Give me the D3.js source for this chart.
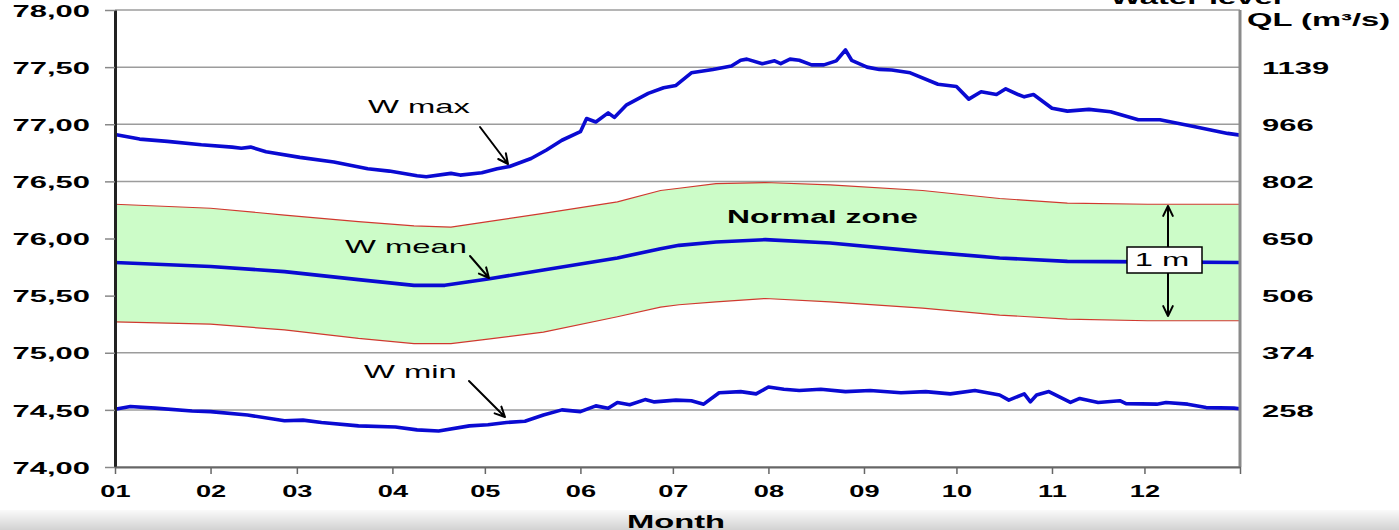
<!DOCTYPE html>
<meta charset="utf-8">
<style>
  body { margin: 0; background: #fff; }
  svg { display: block; }
  .grid line { stroke: #9c9c9c; stroke-width: 1.5px; }
  .zone { fill: #ccfcc8; stroke: none; }
  .zone-edge { fill: none; stroke: #d0392f; stroke-width: 1.2px; }
  .wline { fill: none; stroke: #0a0ad2; stroke-width: 3.6px; stroke-linejoin: round; }
  .arrow { fill: none; stroke: #000; stroke-width: 2px; stroke-linecap: round; stroke-linejoin: round; }
  text { font-family: 'Liberation Sans', Arial, sans-serif; fill: #000; }
</style>
<svg width="1399" height="530"></svg>
<script src="https://cdn.jsdelivr.net/npm/d3@7"></script>
<script>
  // month axis
  const monthStarts = [0, 31, 59, 90, 120, 151, 181, 212, 243, 273, 304, 334, 365];
  const monthLabels = ["01", "02", "03", "04", "05", "06", "07", "08", "09", "10", "11", "12", ""];

  // water level gridlines and the discharge (QL) shown on the right
  const levels = [74, 74.5, 75, 75.5, 76, 76.5, 77, 77.5, 78];
  const qlLevels = [77.5, 77, 76.5, 76, 75.5, 75, 74.5];
  const qlLabels = ["1139", "966", "802", "650", "506", "374", "258"];

  // W max (day of year, level)
  const wMaxDay = [0, 8, 17, 28, 38, 41, 44, 49, 60, 71, 82, 89, 98, 101, 109, 112, 119, 124, 128, 135,
    140, 145, 151, 153, 156, 160, 162, 166, 173, 178, 182, 187, 194, 200, 203, 205, 210, 214, 216, 219,
    222, 226, 230, 234, 237, 239, 244, 248, 252, 258, 267, 273, 277, 281, 286, 289, 293, 295, 298, 304,
    309, 316, 323, 332, 339, 350, 361, 365];
  const wMaxVal = [76.91, 76.87, 76.85, 76.82, 76.80, 76.79, 76.80, 76.76, 76.71, 76.67, 76.61, 76.59, 76.55, 76.54, 76.57, 76.555, 76.575, 76.61, 76.63, 76.70,
    76.775, 76.86, 76.935, 77.05, 77.02, 77.10, 77.06, 77.17, 77.27, 77.32, 77.34, 77.45, 77.48, 77.51, 77.56, 77.57, 77.53, 77.555, 77.53, 77.57,
    77.56, 77.52, 77.52, 77.555, 77.65, 77.56, 77.50, 77.48, 77.475, 77.45, 77.35, 77.33, 77.22, 77.285, 77.26, 77.31, 77.26, 77.24, 77.26, 77.14,
    77.115, 77.13, 77.11, 77.04, 77.04, 76.98, 76.92, 76.905];

  // W mean
  const wMeanDay = [0, 31, 55, 79, 97, 107, 121, 139, 163, 177, 183, 195, 211, 232, 262, 287, 309, 335, 365];
  const wMeanVal = [75.79, 75.755, 75.71, 75.64, 75.59, 75.59, 75.645, 75.725, 75.83, 75.91, 75.94, 75.97, 75.99, 75.96, 75.885, 75.83, 75.80, 75.795, 75.79];

  // W min
  const wMinDay = [0, 5, 13, 25, 31, 43, 55, 61, 67, 79, 91, 98, 105, 115, 121, 127, 133, 139, 145, 151,
    156, 160, 163, 167, 172, 175, 182, 187, 191, 196, 203, 208, 212, 217, 222, 229, 237, 245, 255, 263,
    271, 279, 287, 290, 295, 297, 299, 303, 310, 313, 319, 326, 328, 338, 341, 348, 354, 363, 365];
  const wMinVal = [74.505, 74.53, 74.515, 74.49, 74.485, 74.455, 74.405, 74.41, 74.39, 74.36, 74.35, 74.325, 74.315, 74.36, 74.37, 74.39, 74.40, 74.455, 74.50, 74.485,
    74.535, 74.515, 74.565, 74.545, 74.59, 74.57, 74.585, 74.58, 74.55, 74.65, 74.66, 74.64, 74.70, 74.68, 74.67, 74.68, 74.66, 74.67, 74.65, 74.66,
    74.64, 74.67, 74.63, 74.585, 74.64, 74.57, 74.63, 74.66, 74.565, 74.60, 74.565, 74.58, 74.555, 74.55, 74.565, 74.55, 74.52, 74.515, 74.51];

  // normal zone bounds
  const zoneDay = [0, 31, 55, 79, 97, 109, 121, 139, 163, 177, 183, 195, 211, 232, 262, 287, 309, 335, 365];
  const zoneUpper = [76.30, 76.265, 76.205, 76.147, 76.11, 76.10, 76.147, 76.22, 76.32, 76.42, 76.44, 76.48, 76.49, 76.47, 76.42, 76.35, 76.31, 76.30, 76.30];
  const zoneLower = [75.27, 75.25, 75.20, 75.125, 75.08, 75.08, 75.12, 75.18, 75.315, 75.40, 75.42, 75.445, 75.475, 75.445, 75.39, 75.33, 75.295, 75.28, 75.28];

  const SX = 1.82; // the original picture is stretched sideways

  const svg = d3.select("svg");
  const x = d3.scaleLinear().domain([0, 365]).range([115, 1240]);
  const y = d3.scaleLinear().domain([74, 78]).range([467, 10]);

  const comma = d3.formatLocale({decimal: ",", thousands: ".", grouping: [3], currency: ["", ""]}).format(".2f");

  function label(px, py, str, size, weight, anchor) {
    return svg.append("text")
      .attr("transform", "translate(" + px + "," + py + ") scale(" + SX + ",1)")
      .attr("text-anchor", anchor || "start")
      .style("font-size", size + "px")
      .style("font-weight", weight || "normal")
      .text(str);
  }

  function arrow(x1, y1, x2, y2) {
    const a = Math.atan2(y2 - y1, x2 - x1), h = 11, w = 0.45;
    svg.append("path").attr("class", "arrow")
      .attr("d", "M" + x1 + "," + y1 + "L" + x2 + "," + y2 +
        "M" + (x2 - h * Math.cos(a - w)) + "," + (y2 - h * Math.sin(a - w)) +
        "L" + x2 + "," + y2 +
        "L" + (x2 - h * Math.cos(a + w)) + "," + (y2 - h * Math.sin(a + w)));
  }

  // bottom shading of the slide
  const grad = svg.append("defs").append("linearGradient")
    .attr("id", "shade").attr("x1", 0).attr("y1", 0).attr("x2", 0).attr("y2", 1);
  grad.append("stop").attr("offset", "0%").attr("stop-color", "#fafafa");
  grad.append("stop").attr("offset", "100%").attr("stop-color", "#d2d2d2");
  svg.append("rect").attr("x", 0).attr("y", 510).attr("width", 1399).attr("height", 20)
    .attr("fill", "url(#shade)");

  // gridlines
  svg.append("g").attr("class", "grid")
    .selectAll("line").data(levels).enter().append("line")
    .attr("x1", x(0)).attr("x2", x(365))
    .attr("y1", d => y(d)).attr("y2", d => y(d));

  // normal zone
  const zone = zoneDay.map((d, i) => ({d: d, lo: zoneLower[i], hi: zoneUpper[i]}));
  svg.append("path").datum(zone).attr("class", "zone")
    .attr("d", d3.area().x(p => x(p.d)).y0(p => y(p.lo)).y1(p => y(p.hi)));
  svg.append("path").datum(zone).attr("class", "zone-edge")
    .attr("d", d3.line().x(p => x(p.d)).y(p => y(p.hi)));
  svg.append("path").datum(zone).attr("class", "zone-edge")
    .attr("d", d3.line().x(p => x(p.d)).y(p => y(p.lo)));

  // water level lines
  const line = d3.line().x(p => x(p[0])).y(p => y(p[1]));
  [[wMaxDay, wMaxVal], [wMeanDay, wMeanVal], [wMinDay, wMinVal]].forEach(s => {
    svg.append("path").datum(d3.zip(s[0], s[1])).attr("class", "wline").attr("d", line);
  });

  // axes
  const left = svg.append("g").attr("transform", "translate(" + x(0) + ",0)")
    .call(d3.axisLeft(y).tickValues(levels).tickSize(10).tickSizeOuter(0).tickFormat(comma));
  left.select(".domain").attr("stroke", "#222").attr("stroke-width", 3);
  left.selectAll(".tick line").attr("stroke", "#888").attr("stroke-width", 1.5);
  left.selectAll(".tick text")
    .attr("x", -25 / SX).attr("dy", "0.36em")
    .attr("transform", "scale(" + SX + ",1)")
    .style("font-size", "17px").style("font-weight", "bold")
    .style("font-family", "'Liberation Sans', Arial, sans-serif").attr("fill", "#000");

  const right = svg.append("g").attr("transform", "translate(" + x(365) + ",0)")
    .call(d3.axisRight(y).tickValues(qlLevels).tickSize(0).tickSizeOuter(0)
      .tickFormat((d, i) => qlLabels[i]));
  right.select(".domain").attr("stroke", "#8a8a8a").attr("stroke-width", 3)
    .attr("d", "M0," + y(78) + "V" + y(74));
  right.selectAll(".tick text")
    .attr("x", 22 / SX).attr("dy", "0.36em")
    .attr("transform", "scale(" + SX + ",1)")
    .style("font-size", "17px").style("font-weight", "bold")
    .style("font-family", "'Liberation Sans', Arial, sans-serif").attr("fill", "#000");

  const bottom = svg.append("g").attr("transform", "translate(0," + y(74) + ")")
    .call(d3.axisBottom(x).tickValues(monthStarts).tickSize(7).tickSizeOuter(0)
      .tickFormat((d, i) => monthLabels[i]));
  bottom.select(".domain").attr("stroke", "#666").attr("stroke-width", 2);
  bottom.selectAll(".tick line").attr("stroke", "#666").attr("stroke-width", 1.5);
  bottom.selectAll(".tick text")
    .attr("y", 30).attr("dy", 0)
    .attr("transform", "scale(" + (SX * 0.88) + ",1)")
    .attr("x", 0)
    .style("font-size", "17px").style("font-weight", "bold")
    .style("font-family", "'Liberation Sans', Arial, sans-serif").attr("fill", "#000");
  // the scale applies to the tick group's local x, so move ticks by hand
  bottom.selectAll(".tick").each(function(d) {
    d3.select(this).select("text").attr("x", 0);
  });

  // titles
  label(1196, 3.5, "Water level", 18, "bold", "middle");
  svg.append("text")
    .attr("transform", "translate(1247,26) scale(" + SX + ",1)")
    .style("font-size", "18px").style("font-weight", "bold")
    .text("QL (m³/s)");
  label(676, 528, "Month", 18, "bold", "middle");

  // annotations
  label(368, 113, "W max", 18);
  arrow(480, 127, 508, 164);
  label(345, 253, "W mean", 18);
  arrow(470, 256, 489, 278);
  label(364, 378, "W min", 18);
  arrow(469, 381, 505, 417);
  label(727, 223, "Normal zone", 17.5, "bold");

  // 1 m bracket
  arrow(1168, 262, 1168, 206);
  arrow(1168, 262, 1168, 316);
  svg.append("rect").attr("x", 1127).attr("y", 247).attr("width", 75).attr("height", 26)
    .attr("fill", "#fff").attr("stroke", "#000").attr("stroke-width", 1.5);
  label(1162, 266, "1 m", 18, "normal", "middle");
</script>
